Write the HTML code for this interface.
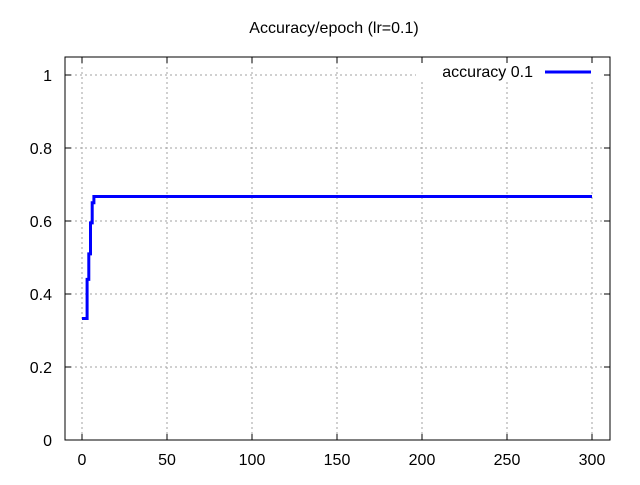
<!DOCTYPE html>
<html><head><meta charset="utf-8"><style>
body{margin:0;background:#fff;}
svg text{font-family:"Liberation Sans",sans-serif;font-size:16px;fill:#000;}
</style></head><body>
<svg id="chart" width="640" height="480" xmlns="http://www.w3.org/2000/svg">
<rect width="640" height="480" fill="#fff"/>
<text x="334" y="33" text-anchor="middle">Accuracy/epoch (lr=0.1)</text>
<g id="grid"></g>
<g id="ticks"></g>
<rect x="65" y="57" width="545" height="383" fill="none" stroke="#000" stroke-width="1"/>
<g id="series"></g>
<g>
<rect x="416" y="63" width="187" height="19" fill="#fff"/>
<text x="533" y="77" text-anchor="end">accuracy 0.1</text>
<line x1="545" y1="72" x2="591" y2="72" stroke="#0000ff" stroke-width="3"/>
</g>
</svg>
<script>
const xTicks=[0,50,100,150,200,250,300];
const yTicks=[0,0.2,0.4,0.6,0.8,1];
const yTickLabels=["0","0.2","0.4","0.6","0.8","1"];
const epochs=[0,1,2,3,4,5,6,7,300];
const accuracy=[0.333,0.333,0.333,0.44,0.51,0.595,0.65,0.667,0.667];
const L=65,R=610,T=57,B=440;
const xs=v=>82+v*(592-82)/300;
const ys=v=>440-v*365;
const NS="http://www.w3.org/2000/svg";
const grid=document.getElementById('grid'),ticks=document.getElementById('ticks'),series=document.getElementById('series');
function mk(tag,attrs,parent){const e=document.createElementNS(NS,tag);for(const k in attrs)e.setAttribute(k,attrs[k]);parent.appendChild(e);return e;}
xTicks.forEach(v=>{const x=xs(v);
 const g=mk('line',{x1:x,y1:T,x2:x,y2:B,stroke:'#a0a0a0','stroke-dasharray':'2,3'},grid);
 
 
 mk('line',{x1:x,y1:B,x2:x,y2:B-6,stroke:'#000'},ticks);
 mk('line',{x1:x,y1:T,x2:x,y2:T+6,stroke:'#000'},ticks);
 const t=mk('text',{x:x,y:B+25,'text-anchor':'middle'},ticks);t.textContent=v;
 
 
});
yTicks.forEach((v,i)=>{const y=ys(v);
 if(v>0){const g=mk('line',{x1:L,y1:y,x2:R,y2:y,stroke:'#a0a0a0','stroke-dasharray':'2,3'},grid);
 
 }
 mk('line',{x1:L,y1:y,x2:L+6,y2:y,stroke:'#000'},ticks);
 mk('line',{x1:R,y1:y,x2:R-6,y2:y,stroke:'#000'},ticks);
 const t=mk('text',{x:52,y:y+6,'text-anchor':'end'},ticks);t.textContent=yTickLabels[i];
 
 
});
let d='M'+xs(epochs[0])+','+ys(accuracy[0]);
for(let i=1;i<epochs.length;i++){d+=' L'+xs(epochs[i])+','+ys(accuracy[i-1])+' L'+xs(epochs[i])+','+ys(accuracy[i]);}
const p=mk('path',{d:d,fill:'none',stroke:'#0000ff','stroke-width':3},series);


</script>
</body></html>
